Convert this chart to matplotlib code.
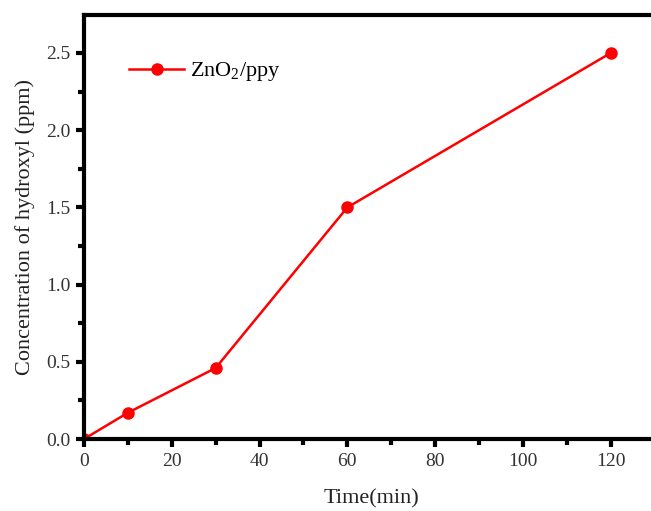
import numpy as np
import matplotlib
matplotlib.use("Agg")
import matplotlib.pyplot as plt
from matplotlib.ticker import MultipleLocator

# data
time_min = [0, 10, 30, 60, 120]
hydroxyl_ppm = [0.0, 0.17, 0.46, 1.5, 2.5]
series_name = "ZnO$_2$/ppy"

plt.rcParams['font.family'] = ['Liberation Serif', 'DejaVu Serif']
plt.rcParams['mathtext.fontset'] = 'custom'
plt.rcParams['mathtext.rm'] = 'Liberation Serif'
plt.rcParams['mathtext.it'] = 'Liberation Serif'

fig = plt.figure(figsize=(6.51, 5.11), dpi=100)
ax = fig.add_axes([84 / 651, 72 / 511, 575 / 651, 424 / 511])

ax.plot(time_min, hydroxyl_ppm, color='#ff0000', lw=1.8, marker='o',
        markersize=8, label=series_name)

ax.set_xlim(0, 131)
ax.set_ylim(0, 2.746)
ax.xaxis.set_major_locator(MultipleLocator(20))
ax.xaxis.set_minor_locator(MultipleLocator(10))
ax.yaxis.set_major_locator(MultipleLocator(0.5))
ax.yaxis.set_minor_locator(MultipleLocator(0.25))
ax.yaxis.set_major_formatter(plt.FormatStrFormatter('%.1f'))

for s in ax.spines.values():
    s.set_linewidth(3)
ax.tick_params(which='major', direction='out', length=6, width=3,
               labelsize=14, colors='black', labelcolor='#333333', pad=4)
ax.tick_params(which='minor', direction='out', length=4, width=3)

ax.set_xlabel("Time(min)", fontsize=16, color='#222222', labelpad=14)
ax.set_ylabel("Concentration of hydroxyl (ppm)", fontsize=16, color='#222222', labelpad=8)

leg = ax.legend(loc='upper left', bbox_to_anchor=(0.043, 0.94), frameon=False,
                fontsize=16, handlelength=2.5, handletextpad=0.25)

fig.savefig("out.png", dpi=100)
